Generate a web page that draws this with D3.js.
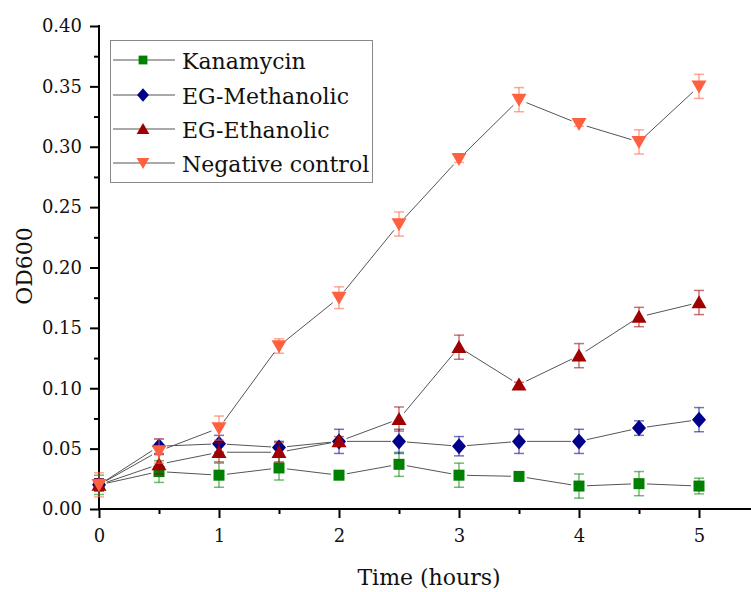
<!DOCTYPE html>
<html>
<head>
<meta charset="utf-8">
<script src="https://cdn.jsdelivr.net/npm/d3@7/dist/d3.min.js"></script>
<style>
  html, body { margin: 0; padding: 0; background: #fff; }
  svg { display: block; font-family: "DejaVu Serif", serif; }
</style>
</head>
<body>
<svg id="chart" width="751" height="592"></svg>
<script>
// Sampling times (hours)
const times = [0, 0.5, 1, 1.5, 2, 2.5, 3, 3.5, 4, 4.5, 5];

// OD600 means and error (± SD) for each treatment
const kanamycin      = [0.020, 0.031, 0.028, 0.034, 0.028, 0.037, 0.028, 0.027, 0.019, 0.021, 0.019];
const kanamycinErr   = [0.008, 0.009, 0.010, 0.010, 0.000, 0.010, 0.010, 0.000, 0.010, 0.010, 0.0065];
const methanolic     = [0.020, 0.052, 0.054, 0.051, 0.056, 0.056, 0.052, 0.056, 0.056, 0.067, 0.074];
const methanolicErr  = [0.005, 0.006, 0.007, 0.005, 0.010, 0.010, 0.008, 0.010, 0.010, 0.006, 0.010];
const ethanolic      = [0.020, 0.037, 0.047, 0.047, 0.056, 0.0745, 0.134, 0.103, 0.127, 0.159, 0.171];
const ethanolicErr   = [0.005, 0.008, 0.008, 0.008, 0.004, 0.010, 0.010, 0.002, 0.010, 0.008, 0.010];
const negative       = [0.020, 0.048, 0.067, 0.135, 0.175, 0.236, 0.290, 0.339, 0.319, 0.304, 0.350];
const negativeErr    = [0.010, 0.010, 0.010, 0.006, 0.009, 0.010, 0.003, 0.010, 0.002, 0.010, 0.010];

const seriesNames  = ["Kanamycin", "EG-Methanolic", "EG-Ethanolic", "Negative control"];
const seriesColors = ["#008000", "#00008B", "#A00000", "#FF6040"];
const seriesShapes = ["square", "diamond", "triangle", "triangleDown"];

const yTickValues = [0, 0.05, 0.10, 0.15, 0.20, 0.25, 0.30, 0.35, 0.40];
const xTickValues = [0, 1, 2, 3, 4, 5];

const series = [
  { name: seriesNames[0], color: seriesColors[0], shape: seriesShapes[0], values: kanamycin,  errs: kanamycinErr },
  { name: seriesNames[1], color: seriesColors[1], shape: seriesShapes[1], values: methanolic, errs: methanolicErr },
  { name: seriesNames[2], color: seriesColors[2], shape: seriesShapes[2], values: ethanolic,  errs: ethanolicErr },
  { name: seriesNames[3], color: seriesColors[3], shape: seriesShapes[3], values: negative,   errs: negativeErr }
];

const svg = d3.select("#chart");
const plotLeft = 99, plotRight = 699, plotTop = 26, plotBottom = 509;

const x = d3.scaleLinear().domain([0, 5]).range([plotLeft, plotRight]);
const y = d3.scaleLinear().domain([0, 0.40]).range([plotBottom, plotTop]);

// Marker path generator, centred on (0,0)
function markerPath(shape, k) {
  const p = d3.path();
  if (shape === "square") {
    const s = 11 * k;
    p.rect(-s / 2, -s / 2, s, s);
  } else if (shape === "diamond") {
    const w = 7 * k, h = 8 * k;
    p.moveTo(0, -h); p.lineTo(w, 0); p.lineTo(0, h); p.lineTo(-w, 0); p.closePath();
  } else if (shape === "triangle") {
    const w = 7.5 * k, h = 6.5 * k;
    p.moveTo(0, -h * 1.1); p.lineTo(w, h * 0.9); p.lineTo(-w, h * 0.9); p.closePath();
  } else {
    const w = 7.5 * k, h = 6.5 * k;
    p.moveTo(0, h * 1.1); p.lineTo(w, -h * 0.9); p.lineTo(-w, -h * 0.9); p.closePath();
  }
  return p.toString();
}

// ---- Axes ----
const yAxis = d3.axisLeft(y).tickValues(yTickValues).tickFormat(d3.format(".2f")).tickSize(9).tickPadding(8);
const gy = svg.append("g").attr("transform", `translate(${plotLeft},0)`).call(yAxis);
const yMinor = d3.axisLeft(y).tickValues(d3.range(0.025, 0.40, 0.05)).tickFormat("").tickSize(5);
svg.append("g").attr("transform", `translate(${plotLeft},0)`).call(yMinor).select(".domain").remove();

const xAxis = d3.axisBottom(x).tickValues(xTickValues).tickFormat(d3.format("d")).tickSize(9).tickPadding(11);
const gx = svg.append("g").attr("transform", `translate(0,${plotBottom})`).call(xAxis);
const xMinor = d3.axisBottom(x).tickValues(d3.range(0.5, 5, 1)).tickFormat("").tickSize(5);
svg.append("g").attr("transform", `translate(0,${plotBottom})`).call(xMinor).select(".domain").remove();

// axis lines: y ends at the top tick, x runs on to the right edge
gy.select(".domain").remove();
gx.select(".domain").remove();
svg.append("line").attr("x1", plotLeft).attr("x2", plotLeft).attr("y1", plotTop - 1).attr("y2", plotBottom + 1)
  .attr("stroke", "#000").attr("stroke-width", 2);
svg.append("line").attr("x1", plotLeft - 1).attr("x2", 751).attr("y1", plotBottom).attr("y2", plotBottom)
  .attr("stroke", "#000").attr("stroke-width", 2);

svg.selectAll(".tick line").attr("stroke", "#000").attr("stroke-width", 2);
svg.selectAll(".tick text").attr("font-family", "DejaVu Serif").attr("font-size", 18).attr("fill", "#111");

// axis titles
svg.append("text").attr("x", 429).attr("y", 585).attr("text-anchor", "middle")
  .attr("font-size", 22).attr("fill", "#111").text("Time (hours)");
svg.append("text").attr("transform", `translate(32,266) rotate(-90)`)
  .attr("text-anchor", "middle").attr("font-size", 22).attr("fill", "#111").text("OD600");

// ---- Connecting lines (with small gaps at markers) ----
const gap = 8;
const lines = svg.append("g");
series.forEach(s => {
  for (let i = 0; i < times.length - 1; i++) {
    const x1 = x(times[i]), y1 = y(s.values[i]);
    const x2 = x(times[i + 1]), y2 = y(s.values[i + 1]);
    const len = Math.hypot(x2 - x1, y2 - y1);
    if (len <= 2 * gap) continue;
    const ux = (x2 - x1) / len, uy = (y2 - y1) / len;
    lines.append("line")
      .attr("x1", x1 + ux * gap).attr("y1", y1 + uy * gap)
      .attr("x2", x2 - ux * gap).attr("y2", y2 - uy * gap)
      .attr("stroke", "#555").attr("stroke-width", 1);
  }
});

// ---- Error bars and markers ----
series.forEach(s => {
  const g = svg.append("g");
  const eb = g.append("g").attr("stroke", s.color).attr("stroke-opacity", 0.55).attr("stroke-width", 1.5);
  times.forEach((t, i) => {
    const e = s.errs[i];
    if (!e) return;
    const cx = x(t), y0 = y(s.values[i] - e), y1 = y(s.values[i] + e);
    eb.append("line").attr("x1", cx).attr("x2", cx).attr("y1", y0).attr("y2", y1);
    eb.append("line").attr("x1", cx - 5).attr("x2", cx + 5).attr("y1", y0).attr("y2", y0);
    eb.append("line").attr("x1", cx - 5).attr("x2", cx + 5).attr("y1", y1).attr("y2", y1);
  });
  g.selectAll("path.mk").data(s.values).join("path")
    .attr("class", "mk")
    .attr("transform", (d, i) => `translate(${x(times[i])},${y(d)})`)
    .attr("d", markerPath(s.shape, 1))
    .attr("fill", s.color);
});

// ---- Legend ----
const lg = svg.append("g");
lg.append("rect").attr("x", 110.5).attr("y", 40.5).attr("width", 262).attr("height", 142)
  .attr("fill", "#fff").attr("stroke", "#888").attr("stroke-width", 1);
const rowY = [60, 95, 129, 163];
series.forEach((s, i) => {
  const cy = rowY[i];
  lg.append("line").attr("x1", 113).attr("x2", 175).attr("y1", cy).attr("y2", cy)
    .attr("stroke", "#555").attr("stroke-width", 1);
  lg.append("path").attr("transform", `translate(143,${cy})`)
    .attr("d", markerPath(s.shape, s.shape === "square" ? 0.8 : 0.85)).attr("fill", s.color);
  lg.append("text").attr("x", 182).attr("y", cy + 9).attr("font-size", 22).attr("fill", "#111").text(s.name);
});
</script>
</body>
</html>
